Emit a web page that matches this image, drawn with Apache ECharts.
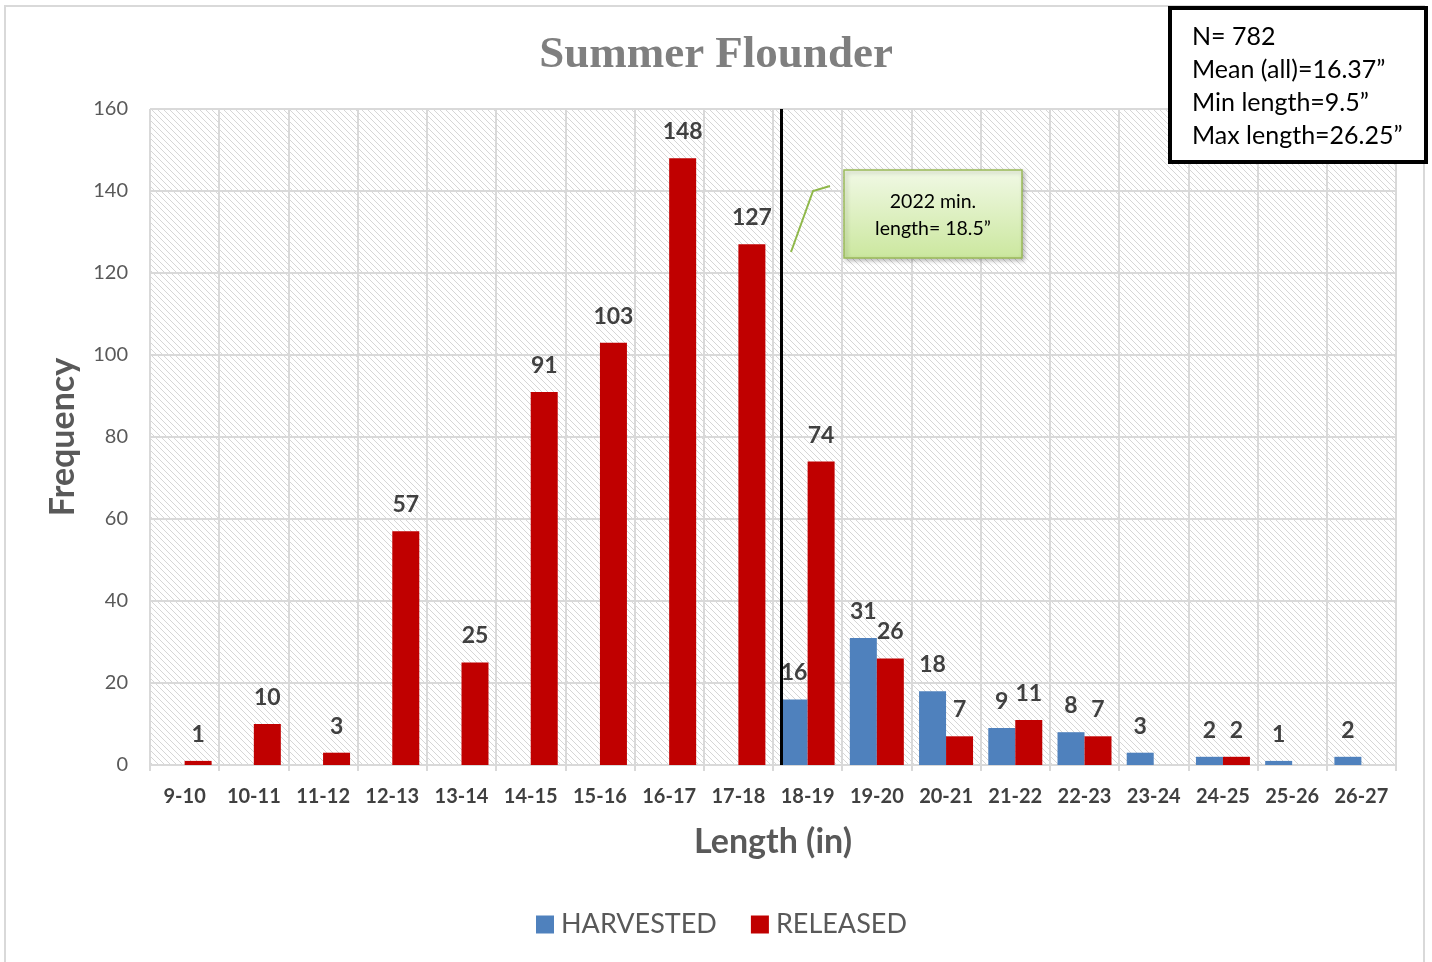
<!DOCTYPE html>
<html>
<head>
<meta charset="utf-8">
<script src="https://cdn.jsdelivr.net/npm/echarts@6/dist/echarts.min.js"></script>
<style>
  html, body { margin: 0; padding: 0; background: #fff; }
  #chart { width: 1432px; height: 962px; }
</style>
</head>
<body>
<div id="chart"></div>
<script>
// length classes (inches)
const categories = ['9-10', '10-11', '11-12', '12-13', '13-14', '14-15', '15-16', '16-17', '17-18',
  '18-19', '19-20', '20-21', '21-22', '22-23', '23-24', '24-25', '25-26', '26-27']
const harvested = [0, 0, 0, 0, 0, 0, 0, 0, 0, 16, 31, 18, 9, 8, 3, 2, 1, 2]
const released = [1, 10, 3, 57, 25, 91, 103, 148, 127, 74, 26, 7, 11, 7, 0, 2, 0, 0]
const statsLines = ['N= 782', 'Mean (all)=16.37\u201D', 'Min length=9.5\u201D', 'Max length=26.25\u201D']
const calloutLines = ['2022 min.', 'length= 18.5\u201D']
// where the min-length line sits on a 9..27 inch scale (as drawn)
const minLineAt = 18.12

const chart = echarts.init(document.getElementById('chart'))

// hatched plot background
const hatch = document.createElement('canvas')
hatch.width = 6
hatch.height = 6
const hctx = hatch.getContext('2d')
hctx.fillStyle = '#ffffff'
hctx.fillRect(0, 0, 6, 6)
hctx.fillStyle = '#d6d6d6'
for (let i = 0; i < 6; i++) {
  hctx.fillRect(i, i, 1, 1)
}

const labelFmt = p => (p.value ? p.value : '')
const dataLabel = {
  show: true,
  position: 'top',
  distance: 15,
  formatter: labelFmt,
  color: '#404040',
  fontFamily: 'Lato',
  fontWeight: 'bold',
  fontSize: 23
}

const option = {
  backgroundColor: '#ffffff',
  animation: false,
  title: {
    text: 'Summer Flounder',
    left: 'center',
    top: 28,
    textStyle: {
      color: '#7f7f7f',
      fontFamily: 'Liberation Serif',
      fontWeight: 'bold',
      fontSize: 45
    }
  },
  legend: {
    bottom: 19,
    left: 531,
    itemWidth: 18,
    itemHeight: 18,
    itemGap: 34,
    icon: 'rect',
    data: ['HARVESTED', 'RELEASED'],
    textStyle: {
      color: '#595959',
      fontFamily: 'Lato',
      fontSize: 27,
      padding: [0, 0, 0, 2]
    }
  },
  grid: {
    left: 150,
    right: 36,
    top: 109,
    bottom: 197,
    show: true,
    borderWidth: 0,
    backgroundColor: { image: hatch, repeat: 'repeat' }
  },
  xAxis: [
    {
      type: 'category',
      data: categories,
      name: 'Length (in)',
      nameLocation: 'middle',
      nameGap: 60,
      nameTextStyle: {
        color: '#595959',
        fontFamily: 'Lato',
        fontWeight: 'bold',
        fontSize: 34
      },
      axisLine: { lineStyle: { color: '#d9d9d9', width: 2 } },
      axisTick: { show: true, length: 6, lineStyle: { color: '#d9d9d9', width: 2 } },
      splitLine: { show: true, lineStyle: { color: '#d9d9d9', width: 2 } },
      axisLabel: {
        color: '#404040',
        fontFamily: 'Lato',
        fontWeight: 'bold',
        fontSize: 20,
        margin: 22,
        interval: 0
      }
    },
    {
      type: 'value',
      min: 9,
      max: 27,
      show: false
    }
  ],
  yAxis: {
    type: 'value',
    min: 0,
    max: 160,
    interval: 20,
    name: 'Frequency',
    nameLocation: 'middle',
    nameGap: 70,
    nameTextStyle: {
      color: '#595959',
      fontFamily: 'Lato',
      fontWeight: 'bold',
      fontSize: 34
    },
    axisLine: { show: false },
    axisTick: { show: false },
    splitLine: { lineStyle: { color: '#d9d9d9', width: 2 } },
    axisLabel: {
      color: '#595959',
      fontFamily: 'Lato',
      fontSize: 20,
      margin: 22
    }
  },
  series: [
    {
      name: 'HARVESTED',
      type: 'bar',
      data: harvested,
      barGap: '0%',
      barCategoryGap: '22%',
      itemStyle: { color: '#4f81bd' },
      label: dataLabel
    },
    {
      name: 'RELEASED',
      type: 'bar',
      data: released,
      barGap: '0%',
      barCategoryGap: '22%',
      itemStyle: { color: '#c00000' },
      label: dataLabel
    },
    {
      // carrier for the minimum length line
      name: 'minline',
      type: 'scatter',
      xAxisIndex: 1,
      data: [],
      silent: true,
      markLine: {
        silent: true,
        symbol: 'none',
        label: { show: false },
        lineStyle: { color: '#000000', width: 3, type: 'solid' },
        data: [{ xAxis: minLineAt }]
      }
    }
  ],
  graphic: [
    {
      // outer chart border
      type: 'rect',
      z: -1,
      shape: { x: 5, y: 6, width: 1419, height: 980 },
      style: { fill: 'none', stroke: '#d9d9d9', lineWidth: 2 }
    },
    {
      // callout connector
      type: 'polyline',
      z: 10,
      shape: { points: [[791, 252], [813, 191], [830, 186]] },
      style: { fill: 'none', stroke: '#8fb84a', lineWidth: 2 }
    },
    {
      type: 'rect',
      z: 10,
      shape: { x: 844, y: 170, width: 178, height: 88 },
      style: {
        fill: new echarts.graphic.LinearGradient(0, 0, 0, 1, [
          { offset: 0, color: '#f1f9e6' },
          { offset: 1, color: '#cbe79e' }
        ]),
        stroke: '#9bbb59',
        lineWidth: 1.5,
        shadowBlur: 4,
        shadowOffsetX: 2,
        shadowOffsetY: 2,
        shadowColor: 'rgba(0,0,0,0.25)'
      }
    },
    {
      type: 'text',
      z: 11,
      x: 933,
      y: 215,
      style: {
        text: calloutLines.join('\n'),
        align: 'center',
        verticalAlign: 'middle',
        fill: '#000000',
        fontFamily: 'Lato',
        fontSize: 19.5,
        lineHeight: 27
      }
    },
    {
      // stats box
      type: 'rect',
      z: 10,
      shape: { x: 1170, y: 8, width: 256, height: 154 },
      style: { fill: '#ffffff', stroke: '#000000', lineWidth: 4 }
    },
    {
      type: 'text',
      z: 11,
      x: 1192,
      y: 86,
      style: {
        text: statsLines.join('\n'),
        align: 'left',
        verticalAlign: 'middle',
        fill: '#000000',
        fontFamily: 'Lato',
        fontSize: 25,
        lineHeight: 33
      }
    }
  ]
}

chart.setOption(option)
</script>
</body>
</html>
